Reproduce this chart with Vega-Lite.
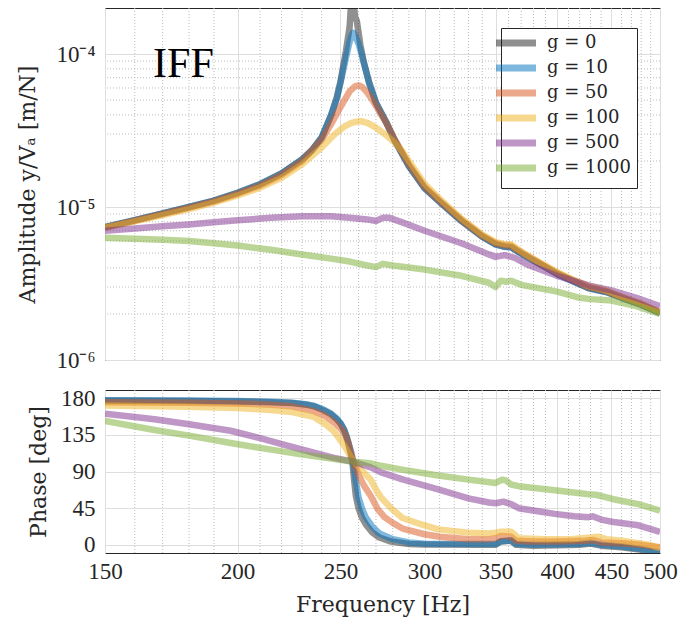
{
  "$schema": "https://vega.github.io/schema/vega-lite/v6.json",
  "background": "white",
  "padding": {"left": 16, "top": 7, "right": 10, "bottom": 5},
  "spacing": 13,
  "resolve": {"legend": {"color": "independent"}},
  "config": {
    "view": {"stroke": "#262626", "strokeWidth": 1},
    "axis": {"labelFont": "Liberation Serif", "labelFontSize": 23, "titleFont": "DejaVu Serif", "titleFontSize": 22, "titleFontWeight": "normal", "labelColor": "#262626", "titleColor": "#262626", "gridColor": "#dedede", "gridWidth": 1, "domain": false, "ticks": false, "labelOverlap": false},
    "legend": {"labelFont": "DejaVu Serif", "labelFontSize": 18, "labelFontWeight": "normal", "labelColor": "#262626"}
  },
  "datasets": {
    "minorX": [{"f":160},{"f":170},{"f":180},{"f":190},{"f":210},{"f":220},{"f":230},{"f":240},{"f":260},{"f":270},{"f":280},{"f":290},{"f":310},{"f":320},{"f":330},{"f":340},{"f":360},{"f":370},{"f":380},{"f":390},{"f":410},{"f":420},{"f":430},{"f":440},{"f":460},{"f":470},{"f":480},{"f":490}],
    "minorY": [{"v":2e-6},{"v":3e-6},{"v":4e-6},{"v":5e-6},{"v":6e-6},{"v":7e-6},{"v":8e-6},{"v":9e-6},{"v":2e-5},{"v":3e-5},{"v":4e-5},{"v":5e-5},{"v":6e-5},{"v":7e-5},{"v":8e-5},{"v":9e-5}],
    "amp": [
      {"f":150,"g":0,"v":7.4e-6},{"f":160,"g":0,"v":8.2e-6},{"f":170,"g":0,"v":9.1e-6},{"f":180,"g":0,"v":1.0e-5},{"f":190,"g":0,"v":1.1e-5},{"f":200,"g":0,"v":1.24e-5},{"f":210,"g":0,"v":1.41e-5},{"f":220,"g":0,"v":1.66e-5},{"f":230,"g":0,"v":2.05e-5},{"f":235,"g":0,"v":2.35e-5},{"f":240,"g":0,"v":2.85e-5},{"f":245,"g":0,"v":4.0e-5},{"f":248,"g":0,"v":5.2e-5},{"f":250,"g":0,"v":6.6e-5},{"f":253,"g":0,"v":1.05e-4},{"f":255,"g":0,"v":1.5e-4},{"f":256,"g":0,"v":2.3e-4},{"f":257,"g":0,"v":2.4e-4},{"f":258,"g":0,"v":1.75e-4},{"f":259,"g":0,"v":1.65e-4},{"f":261,"g":0,"v":1.15e-4},{"f":263,"g":0,"v":8.8e-5},{"f":266,"g":0,"v":6.5e-5},{"f":270,"g":0,"v":4.8e-5},{"f":276,"g":0,"v":3.6e-5},{"f":281,"g":0,"v":2.75e-5},{"f":290,"g":0,"v":1.85e-5},{"f":300,"g":0,"v":1.33e-5},{"f":310,"g":0,"v":1.08e-5},{"f":325,"g":0,"v":8.1e-6},{"f":340,"g":0,"v":6.4e-6},{"f":350,"g":0,"v":5.7e-6},{"f":357,"g":0,"v":5.5e-6},{"f":362,"g":0,"v":5.45e-6},{"f":366,"g":0,"v":5.2e-6},{"f":372,"g":0,"v":4.85e-6},{"f":385,"g":0,"v":4.25e-6},{"f":400,"g":0,"v":3.65e-6},{"f":415,"g":0,"v":3.25e-6},{"f":428,"g":0,"v":2.95e-6},{"f":435,"g":0,"v":2.88e-6},{"f":445,"g":0,"v":2.78e-6},{"f":460,"g":0,"v":2.55e-6},{"f":480,"g":0,"v":2.3e-6},{"f":500,"g":0,"v":2.03e-6},
      {"f":150,"g":10,"v":7.4e-6},{"f":160,"g":10,"v":8.2e-6},{"f":170,"g":10,"v":9.1e-6},{"f":180,"g":10,"v":1.0e-5},{"f":190,"g":10,"v":1.1e-5},{"f":200,"g":10,"v":1.24e-5},{"f":210,"g":10,"v":1.41e-5},{"f":220,"g":10,"v":1.66e-5},{"f":230,"g":10,"v":2.05e-5},{"f":235,"g":10,"v":2.35e-5},{"f":240,"g":10,"v":2.85e-5},{"f":245,"g":10,"v":4.0e-5},{"f":248,"g":10,"v":5.1e-5},{"f":250,"g":10,"v":6.5e-5},{"f":253,"g":10,"v":9.5e-5},{"f":255,"g":10,"v":1.2e-4},{"f":256,"g":10,"v":1.32e-4},{"f":257,"g":10,"v":1.38e-4},{"f":258,"g":10,"v":1.32e-4},{"f":260,"g":10,"v":1.17e-4},{"f":263,"g":10,"v":8.8e-5},{"f":266,"g":10,"v":6.5e-5},{"f":270,"g":10,"v":4.8e-5},{"f":276,"g":10,"v":3.6e-5},{"f":281,"g":10,"v":2.75e-5},{"f":290,"g":10,"v":1.85e-5},{"f":300,"g":10,"v":1.33e-5},{"f":310,"g":10,"v":1.08e-5},{"f":325,"g":10,"v":8.1e-6},{"f":340,"g":10,"v":6.4e-6},{"f":350,"g":10,"v":5.7e-6},{"f":357,"g":10,"v":5.5e-6},{"f":362,"g":10,"v":5.45e-6},{"f":366,"g":10,"v":5.2e-6},{"f":372,"g":10,"v":4.85e-6},{"f":385,"g":10,"v":4.25e-6},{"f":400,"g":10,"v":3.65e-6},{"f":415,"g":10,"v":3.25e-6},{"f":428,"g":10,"v":2.95e-6},{"f":435,"g":10,"v":2.88e-6},{"f":445,"g":10,"v":2.78e-6},{"f":460,"g":10,"v":2.55e-6},{"f":480,"g":10,"v":2.3e-6},{"f":500,"g":10,"v":2.03e-6},
      {"f":150,"g":50,"v":7.35e-6},{"f":160,"g":50,"v":8.15e-6},{"f":170,"g":50,"v":9.0e-6},{"f":180,"g":50,"v":9.9e-6},{"f":190,"g":50,"v":1.09e-5},{"f":200,"g":50,"v":1.22e-5},{"f":210,"g":50,"v":1.38e-5},{"f":220,"g":50,"v":1.62e-5},{"f":230,"g":50,"v":2.0e-5},{"f":240,"g":50,"v":2.75e-5},{"f":245,"g":50,"v":3.5e-5},{"f":250,"g":50,"v":4.5e-5},{"f":255,"g":50,"v":5.7e-5},{"f":258,"g":50,"v":6.15e-5},{"f":260,"g":50,"v":6.25e-5},{"f":262,"g":50,"v":6.1e-5},{"f":265,"g":50,"v":5.6e-5},{"f":268,"g":50,"v":5.0e-5},{"f":272,"g":50,"v":4.2e-5},{"f":276,"g":50,"v":3.55e-5},{"f":281,"g":50,"v":2.8e-5},{"f":290,"g":50,"v":1.9e-5},{"f":300,"g":50,"v":1.36e-5},{"f":310,"g":50,"v":1.1e-5},{"f":325,"g":50,"v":8.25e-6},{"f":340,"g":50,"v":6.5e-6},{"f":350,"g":50,"v":5.8e-6},{"f":357,"g":50,"v":5.62e-6},{"f":362,"g":50,"v":5.58e-6},{"f":366,"g":50,"v":5.3e-6},{"f":372,"g":50,"v":4.95e-6},{"f":385,"g":50,"v":4.3e-6},{"f":400,"g":50,"v":3.7e-6},{"f":415,"g":50,"v":3.3e-6},{"f":428,"g":50,"v":3.0e-6},{"f":435,"g":50,"v":2.93e-6},{"f":445,"g":50,"v":2.82e-6},{"f":460,"g":50,"v":2.58e-6},{"f":480,"g":50,"v":2.32e-6},{"f":500,"g":50,"v":2.05e-6},
      {"f":150,"g":100,"v":7.3e-6},{"f":160,"g":100,"v":8.05e-6},{"f":170,"g":100,"v":8.85e-6},{"f":180,"g":100,"v":9.7e-6},{"f":190,"g":100,"v":1.07e-5},{"f":200,"g":100,"v":1.19e-5},{"f":210,"g":100,"v":1.34e-5},{"f":220,"g":100,"v":1.55e-5},{"f":230,"g":100,"v":1.9e-5},{"f":240,"g":100,"v":2.45e-5},{"f":247,"g":100,"v":3.0e-5},{"f":252,"g":100,"v":3.35e-5},{"f":256,"g":100,"v":3.55e-5},{"f":261,"g":100,"v":3.65e-5},{"f":265,"g":100,"v":3.55e-5},{"f":270,"g":100,"v":3.3e-5},{"f":276,"g":100,"v":2.95e-5},{"f":281,"g":100,"v":2.65e-5},{"f":286,"g":100,"v":2.3e-5},{"f":290,"g":100,"v":2.0e-5},{"f":300,"g":100,"v":1.42e-5},{"f":310,"g":100,"v":1.13e-5},{"f":325,"g":100,"v":8.4e-6},{"f":340,"g":100,"v":6.6e-6},{"f":350,"g":100,"v":5.9e-6},{"f":357,"g":100,"v":5.72e-6},{"f":362,"g":100,"v":5.7e-6},{"f":366,"g":100,"v":5.38e-6},{"f":372,"g":100,"v":5.0e-6},{"f":385,"g":100,"v":4.35e-6},{"f":400,"g":100,"v":3.75e-6},{"f":415,"g":100,"v":3.33e-6},{"f":428,"g":100,"v":3.05e-6},{"f":435,"g":100,"v":2.97e-6},{"f":445,"g":100,"v":2.85e-6},{"f":460,"g":100,"v":2.6e-6},{"f":480,"g":100,"v":2.34e-6},{"f":500,"g":100,"v":2.06e-6},
      {"f":150,"g":500,"v":7.0e-6},{"f":160,"g":500,"v":7.25e-6},{"f":170,"g":500,"v":7.5e-6},{"f":180,"g":500,"v":7.7e-6},{"f":190,"g":500,"v":7.95e-6},{"f":200,"g":500,"v":8.2e-6},{"f":215,"g":500,"v":8.5e-6},{"f":230,"g":500,"v":8.7e-6},{"f":245,"g":500,"v":8.7e-6},{"f":255,"g":500,"v":8.5e-6},{"f":265,"g":500,"v":8.3e-6},{"f":270,"g":500,"v":8.1e-6},{"f":274,"g":500,"v":8.5e-6},{"f":278,"g":500,"v":8.5e-6},{"f":285,"g":500,"v":8.0e-6},{"f":300,"g":500,"v":7.0e-6},{"f":325,"g":500,"v":5.8e-6},{"f":345,"g":500,"v":4.9e-6},{"f":350,"g":500,"v":4.72e-6},{"f":357,"g":500,"v":4.85e-6},{"f":365,"g":500,"v":4.65e-6},{"f":375,"g":500,"v":4.2e-6},{"f":400,"g":500,"v":3.55e-6},{"f":430,"g":500,"v":3.05e-6},{"f":450,"g":500,"v":2.85e-6},{"f":475,"g":500,"v":2.55e-6},{"f":500,"g":500,"v":2.25e-6},
      {"f":150,"g":1000,"v":6.3e-6},{"f":160,"g":1000,"v":6.2e-6},{"f":170,"g":1000,"v":6.1e-6},{"f":180,"g":1000,"v":6.0e-6},{"f":190,"g":1000,"v":5.8e-6},{"f":200,"g":1000,"v":5.6e-6},{"f":215,"g":1000,"v":5.25e-6},{"f":230,"g":1000,"v":4.9e-6},{"f":245,"g":1000,"v":4.6e-6},{"f":255,"g":1000,"v":4.4e-6},{"f":265,"g":1000,"v":4.15e-6},{"f":270,"g":1000,"v":4.05e-6},{"f":274,"g":1000,"v":4.25e-6},{"f":280,"g":1000,"v":4.15e-6},{"f":300,"g":1000,"v":3.9e-6},{"f":325,"g":1000,"v":3.55e-6},{"f":345,"g":1000,"v":3.2e-6},{"f":350,"g":1000,"v":3.0e-6},{"f":354,"g":1000,"v":3.3e-6},{"f":358,"g":1000,"v":3.25e-6},{"f":362,"g":1000,"v":3.3e-6},{"f":370,"g":1000,"v":3.1e-6},{"f":400,"g":1000,"v":2.8e-6},{"f":420,"g":1000,"v":2.55e-6},{"f":430,"g":1000,"v":2.5e-6},{"f":450,"g":1000,"v":2.45e-6},{"f":475,"g":1000,"v":2.25e-6},{"f":500,"g":1000,"v":2.0e-6}
    ],
    "phase": [
      {"f":150,"g":0,"p":177},{"f":180,"g":0,"p":176.5},{"f":200,"g":0,"p":176},{"f":215,"g":0,"p":175},{"f":225,"g":0,"p":174},{"f":232,"g":0,"p":172},{"f":236,"g":0,"p":170},{"f":241,"g":0,"p":165},{"f":245,"g":0,"p":160},{"f":248,"g":0,"p":154},{"f":250,"g":0,"p":149},{"f":252,"g":0,"p":141},{"f":253.5,"g":0,"p":132},{"f":255,"g":0,"p":118},{"f":256.5,"g":0,"p":103},{"f":257.5,"g":0,"p":80},{"f":258.5,"g":0,"p":60},{"f":260,"g":0,"p":45},{"f":262,"g":0,"p":33},{"f":264.5,"g":0,"p":24},{"f":268,"g":0,"p":15},{"f":272,"g":0,"p":9},{"f":279,"g":0,"p":4},{"f":290,"g":0,"p":1},{"f":300,"g":0,"p":0.5},{"f":340,"g":0,"p":0},{"f":350,"g":0,"p":0},{"f":354,"g":0,"p":4},{"f":362,"g":0,"p":5},{"f":366,"g":0,"p":0},{"f":380,"g":0,"p":-1},{"f":420,"g":0,"p":0},{"f":430,"g":0,"p":1.5},{"f":440,"g":0,"p":-1},{"f":460,"g":0,"p":-3},{"f":480,"g":0,"p":-6},{"f":500,"g":0,"p":-11},
      {"f":150,"g":10,"p":177.5},{"f":180,"g":10,"p":177},{"f":200,"g":10,"p":176.5},{"f":215,"g":10,"p":175.5},{"f":225,"g":10,"p":174.5},{"f":232,"g":10,"p":172.5},{"f":236,"g":10,"p":170.5},{"f":241,"g":10,"p":166},{"f":245,"g":10,"p":161},{"f":248,"g":10,"p":155},{"f":250,"g":10,"p":149},{"f":252,"g":10,"p":141},{"f":254,"g":10,"p":128},{"f":255.5,"g":10,"p":117},{"f":257,"g":10,"p":103},{"f":258.5,"g":10,"p":78},{"f":260,"g":10,"p":58},{"f":262,"g":10,"p":44},{"f":264,"g":10,"p":34},{"f":268,"g":10,"p":22},{"f":272,"g":10,"p":14},{"f":280,"g":10,"p":7},{"f":290,"g":10,"p":3},{"f":300,"g":10,"p":1.5},{"f":340,"g":10,"p":1},{"f":350,"g":10,"p":1},{"f":354,"g":10,"p":4.5},{"f":362,"g":10,"p":5.5},{"f":366,"g":10,"p":1},{"f":380,"g":10,"p":0},{"f":420,"g":10,"p":1},{"f":430,"g":10,"p":2.5},{"f":440,"g":10,"p":0},{"f":460,"g":10,"p":-2},{"f":480,"g":10,"p":-5},{"f":500,"g":10,"p":-9},
      {"f":150,"g":50,"p":175},{"f":180,"g":50,"p":174.5},{"f":200,"g":50,"p":173.5},{"f":215,"g":50,"p":172},{"f":225,"g":50,"p":170},{"f":236,"g":50,"p":164},{"f":242,"g":50,"p":158},{"f":246.6,"g":50,"p":150},{"f":250,"g":50,"p":143},{"f":252,"g":50,"p":137},{"f":254,"g":50,"p":127},{"f":257,"g":50,"p":103},{"f":260,"g":50,"p":86},{"f":263,"g":50,"p":73},{"f":267,"g":50,"p":60},{"f":271,"g":50,"p":44},{"f":275,"g":50,"p":34},{"f":280,"g":50,"p":27},{"f":286,"g":50,"p":20},{"f":300,"g":50,"p":13},{"f":310,"g":50,"p":10},{"f":330,"g":50,"p":7},{"f":345,"g":50,"p":7},{"f":350,"g":50,"p":8},{"f":354,"g":50,"p":11},{"f":362,"g":50,"p":10},{"f":366,"g":50,"p":5},{"f":380,"g":50,"p":4},{"f":400,"g":50,"p":4},{"f":425,"g":50,"p":5},{"f":432,"g":50,"p":6},{"f":440,"g":50,"p":3},{"f":460,"g":50,"p":2},{"f":480,"g":50,"p":0},{"f":500,"g":50,"p":-3},
      {"f":150,"g":100,"p":171},{"f":180,"g":100,"p":169.5},{"f":200,"g":100,"p":168},{"f":215,"g":100,"p":165.5},{"f":225,"g":100,"p":163},{"f":236,"g":100,"p":157},{"f":242,"g":100,"p":148},{"f":246.6,"g":100,"p":139},{"f":252,"g":100,"p":122},{"f":257,"g":100,"p":103},{"f":262,"g":100,"p":91},{"f":267,"g":100,"p":80},{"f":270,"g":100,"p":68},{"f":273,"g":100,"p":58},{"f":279,"g":100,"p":45},{"f":286,"g":100,"p":33},{"f":298,"g":100,"p":25},{"f":309,"g":100,"p":19},{"f":330,"g":100,"p":15},{"f":345,"g":100,"p":14},{"f":350,"g":100,"p":15},{"f":354,"g":100,"p":16},{"f":362,"g":100,"p":16},{"f":368,"g":100,"p":8},{"f":390,"g":100,"p":7},{"f":412,"g":100,"p":7},{"f":430,"g":100,"p":9},{"f":437,"g":100,"p":10},{"f":445,"g":100,"p":7},{"f":460,"g":100,"p":5},{"f":489,"g":100,"p":0},{"f":500,"g":100,"p":-4},
      {"f":150,"g":500,"p":161},{"f":160,"g":500,"p":157},{"f":167,"g":500,"p":154},{"f":180,"g":500,"p":148},{"f":197,"g":500,"p":140},{"f":210,"g":500,"p":131},{"f":221,"g":500,"p":123},{"f":236,"g":500,"p":113},{"f":246,"g":500,"p":107},{"f":257,"g":500,"p":102},{"f":267,"g":500,"p":95},{"f":273,"g":500,"p":89},{"f":286.5,"g":500,"p":80},{"f":309,"g":500,"p":68},{"f":330,"g":500,"p":57},{"f":345,"g":500,"p":52},{"f":350,"g":500,"p":51},{"f":356,"g":500,"p":53},{"f":362,"g":500,"p":50},{"f":368,"g":500,"p":45},{"f":385,"g":500,"p":41},{"f":398,"g":500,"p":38},{"f":415,"g":500,"p":35},{"f":428,"g":500,"p":34},{"f":432,"g":500,"p":35},{"f":440,"g":500,"p":31},{"f":452,"g":500,"p":28},{"f":477,"g":500,"p":24},{"f":500,"g":500,"p":16},
      {"f":150,"g":1000,"p":152},{"f":167,"g":1000,"p":141},{"f":180,"g":1000,"p":134},{"f":197,"g":1000,"p":125},{"f":210,"g":1000,"p":119},{"f":229.5,"g":1000,"p":111},{"f":245,"g":1000,"p":106},{"f":257,"g":1000,"p":102},{"f":267,"g":1000,"p":100},{"f":273,"g":1000,"p":97},{"f":286.5,"g":1000,"p":92},{"f":309,"g":1000,"p":85},{"f":330,"g":1000,"p":80},{"f":350,"g":1000,"p":76},{"f":355,"g":1000,"p":80},{"f":358,"g":1000,"p":79},{"f":362,"g":1000,"p":74},{"f":368,"g":1000,"p":72},{"f":398,"g":1000,"p":67},{"f":428,"g":1000,"p":62},{"f":435,"g":1000,"p":61.5},{"f":452,"g":1000,"p":56},{"f":477,"g":1000,"p":50},{"f":500,"g":1000,"p":42}
    ]
  },
  "vconcat": [
    {
      "width": 555,
      "height": 352,
      "layer": [
        {
          "data": {"name": "minorX"},
          "mark": {"type": "rule", "color": "#bcbcbc", "strokeWidth": 1, "strokeDash": [1, 2]},
          "encoding": {"x": {"field": "f", "type": "quantitative", "scale": {"type": "log", "domain": [150, 500], "nice": false}}}
        },
        {
          "data": {"name": "minorY"},
          "mark": {"type": "rule", "color": "#bcbcbc", "strokeWidth": 1, "strokeDash": [1, 2]},
          "encoding": {"y": {"field": "v", "type": "quantitative", "scale": {"type": "log", "domain": [1e-6, 2e-4], "nice": false}}}
        },
        {
          "data": {"name": "amp"},
          "mark": {"type": "line", "strokeWidth": 6.5, "opacity": 0.5, "clip": true, "strokeJoin": "round"},
          "encoding": {
            "x": {"field": "f", "type": "quantitative", "scale": {"type": "log", "domain": [150, 500], "nice": false},
                  "axis": {"values": [150, 200, 250, 300, 350, 400, 450, 500], "labels": false, "title": null, "grid": true}},
            "y": {"field": "v", "type": "quantitative", "scale": {"type": "log", "domain": [1e-6, 2e-4], "nice": false},
                  "axis": {"values": [1e-6, 1e-5, 1e-4], "labelExpr": "datum.value < 5e-6 ? '10⁻⁶' : datum.value < 5e-5 ? '10⁻⁵' : '10⁻⁴'", "title": "Amplitude y/Vₐ [m/N]", "labelPadding": 10, "titlePadding": 16, "grid": true}},
            "color": {"field": "g", "type": "nominal",
                      "scale": {"domain": [0, 10, 50, 100, 500, 1000], "range": ["#222222", "#0072BD", "#D95319", "#EDB120", "#7E2F8E", "#77AC30"]},
                      "legend": {"orient": "none", "legendX": 396, "legendY": 20, "title": null, "labelExpr": "'g = ' + datum.label", "labelFont": "DejaVu Serif", "labelFontSize": 18, "labelFontWeight": "normal", "labelColor": "#262626", "strokeColor": "#262626", "fillColor": "white", "padding": 6, "symbolType": "M-4,0H4", "symbolStrokeWidth": 7, "symbolSize": 100, "symbolOpacity": 0.5, "rowPadding": -3, "labelOffset": 22}}
          }
        },
        {
          "data": {"values": [{"f": 166.5, "v": 7.1e-5, "t": "IFF"}]},
          "mark": {"type": "text", "align": "left", "baseline": "alphabetic", "font": "Liberation Serif", "fontSize": 42, "color": "#000000"},
          "encoding": {
            "x": {"field": "f", "type": "quantitative"},
            "y": {"field": "v", "type": "quantitative"},
            "text": {"field": "t"}
          }
        }
      ]
    },
    {
      "width": 555,
      "height": 163,
      "layer": [
        {
          "data": {"name": "minorX"},
          "mark": {"type": "rule", "color": "#bcbcbc", "strokeWidth": 1, "strokeDash": [1, 2]},
          "encoding": {"x": {"field": "f", "type": "quantitative", "scale": {"type": "log", "domain": [150, 500], "nice": false}}}
        },
        {
          "data": {"name": "phase"},
          "mark": {"type": "line", "strokeWidth": 6.5, "opacity": 0.5, "clip": true, "strokeJoin": "round"},
          "encoding": {
            "x": {"field": "f", "type": "quantitative", "scale": {"type": "log", "domain": [150, 500], "nice": false},
                  "axis": {"values": [150, 200, 250, 300, 350, 400, 450, 500], "title": "Frequency [Hz]", "labelFlush": false, "labelPadding": 7, "titlePadding": 11, "grid": true}},
            "y": {"field": "p", "type": "quantitative", "scale": {"domain": [-10, 190], "nice": false},
                  "axis": {"values": [0, 45, 90, 135, 180], "title": "Phase [deg]", "labelPadding": 10, "titlePadding": 10, "grid": true}},
            "color": {"field": "g", "type": "nominal",
                      "scale": {"domain": [0, 10, 50, 100, 500, 1000], "range": ["#222222", "#0072BD", "#D95319", "#EDB120", "#7E2F8E", "#77AC30"]},
                      "legend": null}
          }
        }
      ]
    }
  ]
}
